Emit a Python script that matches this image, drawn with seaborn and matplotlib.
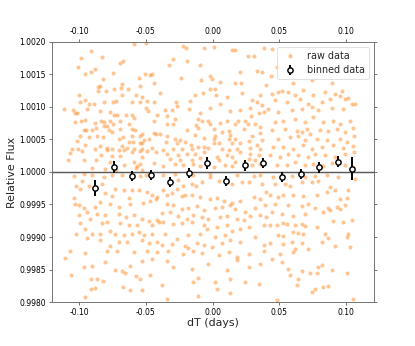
import matplotlib
matplotlib.use("Agg")
import matplotlib.pyplot as plt
import matplotlib.ticker as mticker
import seaborn as sns
import pandas as pd

# raw data points (dT in days, relative flux)
raw_dt = [
 -0.0589,-0.0502,-0.0907,-0.0827,-0.0982,-0.0672,-0.0690,-0.1007,-0.0877,-0.0957,-0.0907,-0.0747,-0.0507,-0.0465,-0.0552,-0.0452,
 -0.0822,-0.0840,-0.0860,-0.0740,-0.0677,-0.0682,-0.0632,-0.0547,-0.0440,-0.0795,-0.0860,-0.0677,-0.1002,-0.0572,-0.0397,-0.0532,
 -0.0952,-0.0990,-0.0927,-0.0890,-0.0810,-0.0747,-0.0722,-0.0607,-0.0547,-0.0490,-0.0437,-0.1115,-0.1047,-0.0940,-0.1015,-0.1027,
 -0.0497,-0.0485,-0.0415,-0.0840,-0.0765,-0.0740,-0.1032,-0.0982,-0.0952,-0.0877,-0.0832,-0.0815,-0.0765,-0.0715,-0.0652,-0.0602,
 -0.0589,-0.0627,-0.0695,-0.0747,-0.0440,-0.0815,-0.0790,-0.0870,-0.0965,-0.0947,-0.0902,-0.0777,-0.0752,-0.0690,-0.0602,-0.0582,
 -0.0532,-0.0547,-0.0607,-0.0440,-0.0422,-0.1015,-0.0990,-0.0922,-0.0865,-0.0822,-0.0702,-0.0670,-0.0627,-0.0595,-0.0515,-0.0477,
 -0.0532,-0.0952,-0.0840,-0.0790,-0.0677,-0.0640,-0.0589,-0.0527,-0.0452,-0.0547,-0.1052,-0.1007,-0.0977,-0.0877,-0.0790,-0.0752,
 -0.0702,-0.0665,-0.0602,-0.0540,-0.0490,-0.0427,-0.1065,-0.0832,-0.0752,-0.0690,-0.0532,-0.1085,-0.0965,-0.0872,-0.0765,-0.0589,
 -0.0540,-0.0440,-0.0665,-0.0902,-0.0802,-0.0720,-0.0577,-0.0564,-0.0527,
 -0.0223,-0.0198,-0.0063,0.0007,0.0145,0.0170,0.0382,-0.0293,-0.0193,-0.0093,-0.0323,0.0262,0.0312,0.0207,0.0332,0.0370,
 -0.0023,-0.0006,-0.0238,-0.0088,0.0057,0.0170,0.0212,0.0402,-0.0018,0.0020,-0.0131,-0.0073,0.0025,0.0220,0.0107,0.0357,
 0.0295,0.0332,-0.0273,-0.0168,0.0052,-0.0268,-0.0305,-0.0355,-0.0173,-0.0018,0.0132,0.0202,0.0282,0.0370,-0.0098,-0.0343,
 -0.0281,-0.0106,-0.0081,-0.0031,0.0187,0.0245,0.0345,0.0382,0.0287,-0.0343,-0.0293,-0.0123,-0.0018,0.0057,0.0107,0.0170,
 0.0265,0.0320,-0.0106,-0.0193,0.0007,0.0120,0.0132,0.0357,0.0232,0.0070,-0.0393,-0.0281,-0.0243,-0.0343,-0.0131,-0.0068,
 0.0007,0.0020,0.0120,0.0170,0.0295,0.0357,0.0370,-0.0348,-0.0268,-0.0206,-0.0163,-0.0068,0.0007,0.0045,0.0145,0.0207,
 0.0270,0.0332,-0.0368,-0.0293,-0.0231,-0.0156,-0.0106,-0.0031,0.0070,0.0120,0.0182,0.0282,0.0357,-0.0343,-0.0256,-0.0193,
 -0.0131,-0.0068,0.0032,0.0107,0.0145,0.0207,0.0282,0.0345,-0.0318,-0.0243,-0.0156,-0.0093,0.0045,0.0170,0.0270,0.0320,
 -0.0281,-0.0143,0.0095,0.0145,0.0295,0.0357,-0.0368,-0.0218,-0.0093,0.0007,
 0.0579,0.0446,0.0436,0.0479,0.0604,0.0741,0.0486,0.0441,0.0516,0.0566,0.0616,0.0679,0.0754,0.0841,0.0896,0.0954,
 0.0971,0.0916,0.1016,0.0991,0.1046,0.1066,0.0466,0.0554,0.0654,0.0716,0.0816,0.0879,0.0416,0.0491,0.0591,0.0666,
 0.0741,0.0791,0.0891,0.0979,0.0466,0.0529,0.0616,0.0691,0.0754,0.0829,0.0904,0.0954,0.1029,0.0441,0.0541,0.0629,
 0.0666,0.0704,0.0729,0.0804,0.0866,0.0929,0.0991,0.1054,0.0491,0.0579,0.0641,0.0691,0.0779,0.0854,0.0954,0.1004,
 0.1061,0.0454,0.0529,0.0604,0.0679,0.0741,0.0816,0.0904,0.0979,0.1054,0.0429,0.0504,0.0566,0.0641,0.0716,0.0766,
 0.0841,0.0916,0.0991,0.1061,0.0479,0.0554,0.0616,0.0691,0.0754,0.0829,0.0891,0.0991,0.1054,
 -0.1040,-0.0965,-0.0902,-0.0815,-0.0752,-0.0677,-0.0540,-0.0502,-0.1022,-0.0977,-0.0990,-0.0927,-0.0827,-0.0802,-0.0752,-0.0727,
 -0.0665,-0.0627,-0.0602,-0.0552,-0.0490,-0.0452,-0.0415,-0.1040,-0.1002,-0.0965,-0.1027,-0.0877,-0.0840,-0.0765,-0.0702,-0.0615,
 -0.0522,-0.0465,-0.0422,-0.1002,-0.0940,-0.0865,-0.0807,-0.0702,-0.0652,-0.0589,-0.0527,-0.0477,-0.0415,-0.0915,-0.0990,-0.0827,
 -0.0790,-0.0690,-0.0627,-0.0564,-0.0452,-0.0402,-0.0952,-0.0902,-0.0840,-0.0765,-0.0727,-0.0665,-0.0602,-0.0552,-0.0515,-0.0452,
 -0.1020,-0.0940,-0.0840,-0.0765,-0.0702,-0.0640,-0.0527,-0.0477,-0.0415,-0.1065,-0.0952,-0.0790,-0.0715,-0.0589,-0.0490,-0.0415,
 -0.1102,-0.0802,-0.0622,-0.0527,-0.0452,-0.0965,-0.0902,-0.0727,-0.0677,-0.0465,-0.1057,-0.0907,-0.0865,-0.0822,-0.0657,-0.0577,
 -0.0540,-0.0907,-0.0877,-0.0672,-0.0615,-0.0532,-0.0957,
 -0.0368,-0.0281,-0.0143,-0.0018,0.0182,0.0307,0.0357,-0.0256,-0.0218,-0.0268,-0.0156,-0.0123,-0.0081,-0.0018,0.0045,0.0145,
 0.0220,0.0270,0.0370,-0.0368,-0.0343,-0.0306,-0.0231,-0.0206,-0.0156,-0.0093,-0.0018,0.0032,0.0082,0.0145,0.0207,0.0307,
 0.0357,0.0402,-0.0343,-0.0293,-0.0231,-0.0181,-0.0118,-0.0068,0.0020,0.0070,0.0127,0.0170,0.0245,0.0320,0.0395,-0.0381,
 -0.0318,-0.0256,-0.0193,-0.0143,-0.0081,-0.0031,0.0057,0.0107,0.0182,0.0232,0.0282,0.0357,0.0402,-0.0368,-0.0293,-0.0231,
 -0.0156,-0.0068,0.0032,0.0107,0.0145,0.0207,0.0270,0.0382,-0.0356,-0.0268,-0.0181,-0.0093,-0.0043,0.0020,0.0095,0.0132,
 0.0207,0.0320,0.0382,-0.0381,-0.0306,-0.0206,-0.0181,-0.0118,-0.0068,-0.0006,0.0070,-0.0331,-0.0218,-0.0143,-0.0081,0.0045,
 0.0120,0.0182,0.0270,0.0382,-0.0293,-0.0156,-0.0031,0.0107,0.0182,0.0270,0.0357,-0.0343,-0.0106,-0.0143,0.0020,0.0132,
 0.0245,0.0345,-0.0381,0.0032,0.0132,-0.0343,-0.0106,
 0.0454,0.0591,0.0691,0.0766,0.0854,0.0941,0.0466,0.0541,0.0579,0.0666,0.0741,0.0791,0.0879,0.0916,0.1016,0.1066,
 0.0429,0.0491,0.0529,0.0604,0.0679,0.0779,0.0854,0.0954,0.1004,0.0466,0.0566,0.0666,0.0716,0.0766,0.0866,0.0929,
 0.0991,0.0441,0.0516,0.0604,0.0691,0.0829,0.0879,0.0954,0.0429,0.0479,0.0529,0.0554,0.0616,0.0666,0.0691,0.0779,
 0.0904,0.0979,0.1041,0.0491,0.0529,0.0604,0.0641,0.0679,0.0841,0.0866,0.1016,0.0429,0.0529,0.0591,0.0616,0.0666,
 0.0816,0.0916,0.1004,0.1029,0.0504,0.0604,0.0716,0.0441,0.0516,0.0566,0.0666,0.0729,0.0791,0.0816,0.0891,0.1004,
 0.0579,0.0641,0.0779,0.0629,0.0741,0.0829,0.0866,0.0766,0.0479,0.1054,
]
raw_flux = [
 1.00197,1.00199,1.00186,1.00176,1.00175,1.00171,1.00168,1.00161,1.00159,1.00150,1.00153,1.00152,1.00150,1.00149,1.00145,1.00150,
 1.00143,1.00132,1.00131,1.00128,1.00135,1.00129,1.00128,1.00132,1.00136,1.00124,1.00125,1.00118,1.00119,1.00118,1.00122,1.00116,
 1.00110,1.00107,1.00104,1.00105,1.00107,1.00108,1.00109,1.00107,1.00108,1.00109,1.00108,1.00097,1.00095,1.00097,1.00091,1.00090,
 1.00099,1.00094,1.00088,1.00093,1.00092,1.00088,1.00077,1.00078,1.00080,1.00076,1.00078,1.00077,1.00078,1.00088,1.00088,1.00087,
 1.00083,1.00074,1.00078,1.00073,1.00078,1.00071,1.00071,1.00068,1.00064,1.00065,1.00064,1.00064,1.00061,1.00066,1.00066,1.00064,
 1.00059,1.00055,1.00055,1.00060,1.00058,1.00047,1.00055,1.00054,1.00056,1.00054,1.00051,1.00054,1.00046,1.00046,1.00049,1.00050,
 1.00044,1.00041,1.00040,1.00037,1.00040,1.00037,1.00036,1.00036,1.00037,1.00044,1.00036,1.00036,1.00032,1.00036,1.00033,1.00035,
 1.00033,1.00033,1.00030,1.00032,1.00032,1.00031,1.00029,1.00026,1.00025,1.00025,1.00023,1.00019,1.00019,1.00019,1.00016,1.00016,
 1.00013,1.00014,1.00010,1.00006,1.00005,1.00003,1.00006,1.00009,1.00003,
 1.00193,1.00191,1.00191,1.00192,1.00188,1.00188,1.00190,1.00174,1.00170,1.00165,1.00164,1.00179,1.00179,1.00153,1.00155,1.00154,
 1.00148,1.00143,1.00144,1.00141,1.00139,1.00136,1.00137,1.00133,1.00128,1.00128,1.00119,1.00122,1.00119,1.00122,1.00115,1.00118,
 1.00110,1.00107,1.00107,1.00109,1.00104,1.00102,1.00095,1.00095,1.00097,1.00098,1.00093,1.00095,1.00098,1.00103,1.00090,1.00086,
 1.00082,1.00082,1.00078,1.00078,1.00078,1.00078,1.00090,1.00092,1.00086,1.00074,1.00074,1.00072,1.00073,1.00076,1.00078,1.00073,
 1.00073,1.00074,1.00067,1.00064,1.00066,1.00063,1.00057,1.00069,1.00066,1.00061,1.00059,1.00051,1.00049,1.00056,1.00057,1.00052,
 1.00051,1.00055,1.00051,1.00050,1.00055,1.00060,1.00049,1.00046,1.00044,1.00046,1.00041,1.00038,1.00045,1.00044,1.00045,1.00044,
 1.00047,1.00041,1.00033,1.00036,1.00036,1.00035,1.00038,1.00037,1.00035,1.00033,1.00036,1.00037,1.00035,1.00028,1.00026,1.00027,
 1.00028,1.00031,1.00023,1.00026,1.00023,1.00030,1.00028,1.00026,1.00020,1.00018,1.00019,1.00021,1.00018,1.00015,1.00020,1.00018,
 1.00013,1.00013,1.00011,1.00009,1.00010,1.00013,1.00009,1.00010,1.00009,1.00008,
 1.00181,1.00189,1.00148,1.00162,1.00137,1.00141,1.00123,1.00120,1.00124,1.00123,1.00119,1.00126,1.00119,1.00123,1.00136,1.00117,
 1.00124,1.00120,1.00114,1.00112,1.00104,1.00105,1.00110,1.00107,1.00112,1.00105,1.00108,1.00112,1.00097,1.00092,1.00095,1.00097,
 1.00100,1.00095,1.00098,1.00097,1.00077,1.00079,1.00082,1.00077,1.00085,1.00077,1.00078,1.00074,1.00078,1.00064,1.00066,1.00063,
 1.00061,1.00066,1.00059,1.00064,1.00063,1.00066,1.00061,1.00068,1.00051,1.00054,1.00055,1.00049,1.00051,1.00049,1.00051,1.00046,
 1.00056,1.00038,1.00038,1.00036,1.00042,1.00036,1.00038,1.00041,1.00037,1.00040,1.00026,1.00023,1.00028,1.00026,1.00023,1.00027,
 1.00026,1.00023,1.00028,1.00031,1.00010,1.00011,1.00015,1.00010,1.00013,1.00009,1.00014,1.00011,1.00008,
 0.99994,0.99997,0.99996,0.99992,0.99995,0.99996,0.99994,0.99996,0.99979,0.99986,0.99974,0.99979,0.99981,0.99968,0.99963,0.99974,
 0.99972,0.99960,0.99972,0.99973,0.99969,0.99964,0.99962,0.99960,0.99949,0.99945,0.99950,0.99946,0.99954,0.99950,0.99946,0.99951,
 0.99953,0.99955,0.99958,0.99934,0.99938,0.99936,0.99934,0.99936,0.99931,0.99934,0.99928,0.99924,0.99926,0.99927,0.99922,0.99922,
 0.99923,0.99922,0.99919,0.99918,0.99919,0.99923,0.99912,0.99905,0.99905,0.99909,0.99905,0.99903,0.99905,0.99908,0.99903,0.99905,
 0.99904,0.99898,0.99895,0.99886,0.99893,0.99892,0.99896,0.99891,0.99892,0.99879,0.99876,0.99879,0.99879,0.99877,0.99879,0.99877,
 0.99868,0.99861,0.99856,0.99863,0.99866,0.99854,0.99855,0.99849,0.99847,0.99842,0.99841,0.99835,0.99836,0.99832,0.99844,0.99840,
 0.99835,0.99820,0.99821,0.99823,0.99819,0.99819,0.99808,
 0.99996,0.99997,0.99996,0.99997,0.99995,0.99994,0.99996,0.99987,0.99978,0.99974,0.99982,0.99979,0.99985,0.99992,0.99986,0.99982,
 0.99985,0.99985,0.99982,0.99972,0.99964,0.99967,0.99963,0.99964,0.99965,0.99962,0.99959,0.99960,0.99955,0.99953,0.99956,0.99962,
 0.99958,0.99969,0.99950,0.99949,0.99943,0.99945,0.99948,0.99941,0.99945,0.99946,0.99949,0.99943,0.99939,0.99944,0.99949,0.99937,
 0.99939,0.99933,0.99928,0.99934,0.99931,0.99928,0.99931,0.99933,0.99928,0.99926,0.99933,0.99934,0.99931,0.99923,0.99920,0.99922,
 0.99923,0.99918,0.99915,0.99918,0.99910,0.99912,0.99915,0.99918,0.99904,0.99897,0.99903,0.99905,0.99912,0.99900,0.99903,0.99895,
 0.99892,0.99900,0.99887,0.99887,0.99890,0.99886,0.99883,0.99891,0.99888,0.99885,0.99891,0.99879,0.99874,0.99879,0.99876,0.99873,
 0.99877,0.99869,0.99874,0.99879,0.99854,0.99851,0.99859,0.99850,0.99864,0.99854,0.99859,0.99863,0.99837,0.99831,0.99831,0.99836,
 0.99831,0.99827,0.99826,0.99820,0.99814,0.99805,0.99809,
 0.99992,0.99994,0.99992,0.99994,0.99995,0.99992,0.99982,0.99982,0.99979,0.99985,0.99984,0.99986,0.99977,0.99972,0.99973,0.99989,
 0.99964,0.99962,0.99964,0.99964,0.99963,0.99965,0.99969,0.99959,0.99960,0.99951,0.99949,0.99948,0.99951,0.99944,0.99944,0.99946,
 0.99949,0.99938,0.99936,0.99933,0.99936,0.99938,0.99941,0.99943,0.99918,0.99918,0.99922,0.99920,0.99918,0.99920,0.99917,0.99915,
 0.99924,0.99923,0.99926,0.99903,0.99902,0.99908,0.99906,0.99905,0.99904,0.99898,0.99905,0.99891,0.99890,0.99892,0.99882,0.99891,
 0.99893,0.99886,0.99900,0.99885,0.99874,0.99877,0.99881,0.99866,0.99861,0.99851,0.99847,0.99844,0.99854,0.99857,0.99849,0.99845,
 0.99841,0.99835,0.99844,0.99826,0.99816,0.99823,0.99824,0.99820,0.99803,0.99804,
]

# binned data
bin_dt = [-0.088, -0.074, -0.060, -0.046, -0.032, -0.018, -0.004, 0.010,
          0.024, 0.038, 0.052, 0.066, 0.080, 0.094, 0.104]
bin_flux = [0.99975, 1.00008, 0.99994, 0.99995, 0.99985, 0.99998, 1.00014, 0.99986,
            1.00010, 1.00014, 0.99992, 0.99997, 1.00007, 1.00016, 1.00005]
bin_err = [0.00012, 0.00009, 0.00008, 0.00008, 0.00008, 0.00008, 0.00009, 0.00008,
           0.00008, 0.00008, 0.00008, 0.00008, 0.00008, 0.00008, 0.00018]

n = min(len(raw_dt), len(raw_flux))
raw = pd.DataFrame({"dT": raw_dt[:n], "flux": raw_flux[:n]})

sns.set_style("white")
plt.rcParams["font.family"] = ["DejaVu Sans"]

DPI = 69.2
fig = plt.figure(figsize=(6.0, 5.0), dpi=DPI)
ax = fig.add_axes([0.125, 0.127, 0.776, 0.752])

sns.scatterplot(data=raw, x="dT", y="flux", ax=ax, color="#ff7f0e", alpha=0.45,
                s=18, linewidth=0, label="raw data", zorder=1)
ax.axhline(1.0, color="0.35", lw=1.5, zorder=2)
ax.errorbar(bin_dt, bin_flux, yerr=bin_err, fmt="o", color="k", mfc="white",
            mec="k", mew=1.5, ms=5.5, elinewidth=2, capsize=0,
            label="binned data", zorder=3)

ax.set_xlim(-0.1203, 0.1209)
ax.set_ylim(0.9980, 1.0020)
ax.yaxis.set_major_locator(mticker.MultipleLocator(0.0005))
ax.yaxis.set_major_formatter(mticker.FormatStrFormatter("%.4f"))
ax.xaxis.set_major_locator(mticker.MultipleLocator(0.05))
ax.xaxis.set_major_formatter(mticker.FormatStrFormatter("%.2f"))
ax.set_xlabel("dT (days)", fontsize=11.5, labelpad=1.5)
ax.set_ylabel("Relative Flux", fontsize=11.5, labelpad=2)

ax.tick_params(axis="both", which="both", direction="out", length=3.5, width=0.8,
               labelsize=8, color="0.3", labelcolor="black", pad=2.5,
               top=True, labeltop=True, right=True, labelright=False,
               bottom=True, left=True)
for sp in ax.spines.values():
    sp.set_visible(True)
    sp.set_color("0.45")
    sp.set_linewidth(1.0)

leg = ax.legend(loc="upper right", fontsize=10, frameon=True, framealpha=0.8,
                edgecolor="0.85", handletextpad=0.8, borderpad=0.4)

fig.savefig("out.png", dpi=DPI, facecolor="white")
